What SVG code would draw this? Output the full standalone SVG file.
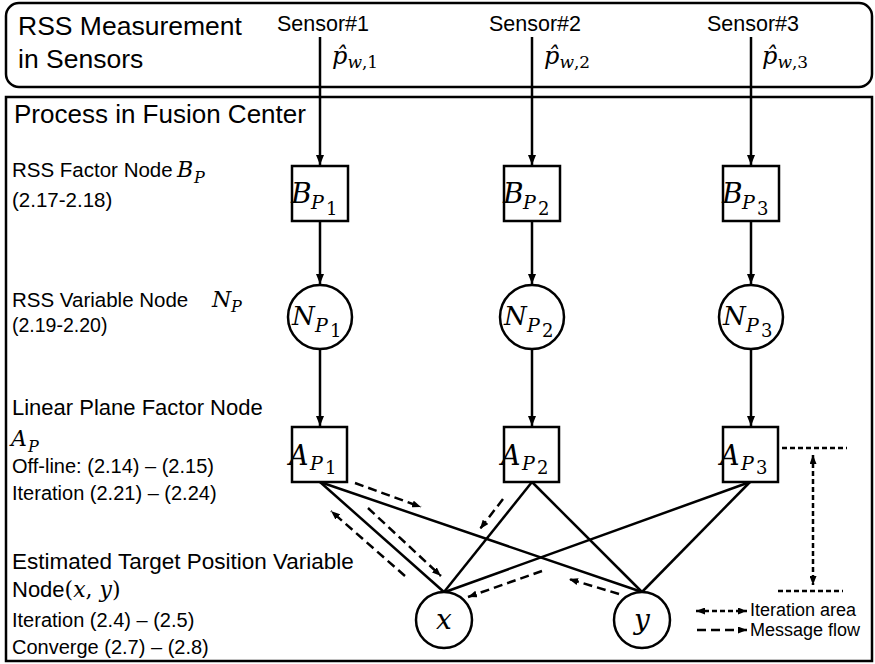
<svg xmlns="http://www.w3.org/2000/svg" width="875" height="664" viewBox="0 0 875 664">
<style>
.panel{fill:none;stroke:#000;stroke-width:2.5}
.nd{fill:#fff;stroke:#000;stroke-width:2.5}
.lbl{font-family:"Liberation Sans",Arial,sans-serif;fill:#000}
.m{font-family:"DejaVu Serif","Liberation Serif",serif;font-style:italic;fill:#000}
.u{font-family:"DejaVu Serif","Liberation Serif",serif;font-style:normal;fill:#000}
.ln{stroke:#000;stroke-width:2.5;fill:none}
.ds{stroke:#000;stroke-width:2.5;fill:none;stroke-dasharray:9 5}
.dt{stroke:#000;stroke-width:2.5;fill:none;stroke-dasharray:5 3}
</style>
<defs>
<marker id="ah" viewBox="0 0 10 8" refX="10" refY="4" markerWidth="10" markerHeight="8" markerUnits="userSpaceOnUse" orient="auto-start-reverse">
<path d="M0,0 L10,4 L0,8 z" fill="#000"/>
</marker>
<marker id="ahs" viewBox="0 0 9 7" refX="9" refY="3.5" markerWidth="9" markerHeight="7" markerUnits="userSpaceOnUse" orient="auto-start-reverse">
<path d="M0,0 L9,3.5 L0,7 z" fill="#000"/>
</marker>
</defs>

<g id="sensors-panel">
<rect class="panel" x="6" y="3" width="866" height="84" rx="13" ry="13"/>
<text class="lbl" x="18" y="35" font-size="26.5">RSS Measurement</text>
<text class="lbl" x="18" y="68" font-size="26.5">in Sensors</text>
</g>

<g id="fusion-panel">
<rect class="panel" x="6" y="97" width="866" height="564"/>
<text class="lbl" x="14" y="123" font-size="26">Process in Fusion Center</text>
<text class="lbl" x="12" y="177" font-size="20.5">RSS Factor Node <tspan class="m" x="177" font-size="22">B</tspan><tspan class="m" x="194" y="183" font-size="16">P</tspan></text>
<text class="lbl" x="12" y="207" font-size="20.5">(2.17-2.18)</text>
<text class="lbl" x="12" y="307" font-size="20.5">RSS Variable Node <tspan class="m" x="212" font-size="22">N</tspan><tspan class="m" x="231" y="312" font-size="16">P</tspan></text>
<text class="lbl" x="12" y="332" font-size="19.5">(2.19-2.20)</text>
<text class="lbl" x="12" y="415" font-size="22">Linear Plane Factor Node</text>
<text class="m" x="11" y="446" font-size="22">A</text>
<text class="m" x="28" y="452" font-size="16">P</text>
<text class="lbl" x="12" y="473" font-size="20">Off-line: (2.14) – (2.15)</text>
<text class="lbl" x="12" y="500" font-size="20">Iteration (2.21) – (2.24)</text>
<text class="lbl" x="12" y="569" font-size="22.5">Estimated Target Position Variable</text>
<text class="lbl" x="12" y="597" font-size="22">Node<tspan class="u">(</tspan><tspan class="m">x</tspan><tspan class="u">, </tspan><tspan class="m">y</tspan><tspan class="u">)</tspan></text>
<text class="lbl" x="12" y="627" font-size="20">Iteration (2.4) – (2.5)</text>
<text class="lbl" x="12" y="654" font-size="20">Converge (2.7) – (2.8)</text>
</g>

<g id="sensor1">
<text class="lbl" x="323" y="31" font-size="21.5" text-anchor="middle">Sensor#1</text>
<text class="m" x="332" y="64" font-size="24">p̂<tspan font-size="17" dy="4">w</tspan><tspan class="u" font-size="17">,1</tspan></text>
</g>
<g id="sensor2">
<text class="lbl" x="535" y="31" font-size="21.5" text-anchor="middle">Sensor#2</text>
<text class="m" x="544" y="64" font-size="24">p̂<tspan font-size="17" dy="4">w</tspan><tspan class="u" font-size="17">,2</tspan></text>
</g>
<g id="sensor3">
<text class="lbl" x="753" y="31" font-size="21.5" text-anchor="middle">Sensor#3</text>
<text class="m" x="762" y="64" font-size="24">p̂<tspan font-size="17" dy="4">w</tspan><tspan class="u" font-size="17">,3</tspan></text>
</g>

<g id="connectors">
<line class="ln" x1="320" y1="37" x2="320" y2="165" marker-end="url(#ah)"/>
<line class="ln" x1="532" y1="37" x2="532" y2="165" marker-end="url(#ah)"/>
<line class="ln" x1="751" y1="37" x2="751" y2="165" marker-end="url(#ah)"/>
<line class="ln" x1="320" y1="222" x2="320" y2="284" marker-end="url(#ah)"/>
<line class="ln" x1="532" y1="222" x2="532" y2="284" marker-end="url(#ah)"/>
<line class="ln" x1="751" y1="222" x2="751" y2="284" marker-end="url(#ah)"/>
<line class="ln" x1="320" y1="349" x2="320" y2="426" marker-end="url(#ah)"/>
<line class="ln" x1="532" y1="349" x2="532" y2="426" marker-end="url(#ah)"/>
<line class="ln" x1="751" y1="349" x2="751" y2="426" marker-end="url(#ah)"/>
<line class="ln" x1="320" y1="482" x2="444" y2="592"/>
<line class="ln" x1="320" y1="482" x2="642" y2="592"/>
<line class="ln" x1="532" y1="482" x2="444" y2="592"/>
<line class="ln" x1="532" y1="482" x2="642" y2="592"/>
<line class="ln" x1="750" y1="482" x2="445" y2="592"/>
<line class="ln" x1="750" y1="482" x2="642" y2="592"/>
<line class="ds" x1="355" y1="483" x2="421" y2="507" marker-end="url(#ahs)"/>
<line class="ds" x1="405" y1="576" x2="331" y2="511" marker-end="url(#ahs)"/>
<line class="ds" x1="368" y1="508" x2="441" y2="576" marker-end="url(#ahs)"/>
<line class="ds" x1="503" y1="499" x2="480" y2="529" marker-end="url(#ahs)"/>
<line class="ds" x1="542" y1="571" x2="468" y2="597" marker-end="url(#ahs)"/>
<line class="ds" x1="619" y1="594" x2="569" y2="579" marker-end="url(#ahs)"/>
</g>

<g id="B1"><rect class="nd" x="292" y="166" width="56" height="55"/><text class="m" x="291" y="203" font-size="28">B</text><text class="m" x="311" y="209" font-size="19">P</text><text class="u" x="326" y="215" font-size="18">1</text></g>
<g id="B2"><rect class="nd" x="504" y="166" width="56" height="55"/><text class="m" x="503" y="203" font-size="28">B</text><text class="m" x="523" y="209" font-size="19">P</text><text class="u" x="538" y="215" font-size="18">2</text></g>
<g id="B3"><rect class="nd" x="723" y="166" width="56" height="55"/><text class="m" x="722" y="203" font-size="28">B</text><text class="m" x="742" y="209" font-size="19">P</text><text class="u" x="757" y="215" font-size="18">3</text></g>

<g id="N1"><circle class="nd" cx="320" cy="317" r="32"/><text class="m" x="292" y="325" font-size="26">N</text><text class="m" x="315" y="332" font-size="19">P</text><text class="u" x="330" y="337" font-size="18">1</text></g>
<g id="N2"><circle class="nd" cx="532" cy="317" r="32"/><text class="m" x="504" y="325" font-size="26">N</text><text class="m" x="527" y="332" font-size="19">P</text><text class="u" x="542" y="337" font-size="18">2</text></g>
<g id="N3"><circle class="nd" cx="751" cy="317" r="32"/><text class="m" x="723" y="325" font-size="26">N</text><text class="m" x="746" y="332" font-size="19">P</text><text class="u" x="761" y="337" font-size="18">3</text></g>

<g id="A1"><rect class="nd" x="292" y="427" width="55" height="55"/><text class="m" x="289" y="465" font-size="27">A</text><text class="m" x="310" y="470" font-size="19">P</text><text class="u" x="325" y="474" font-size="18">1</text></g>
<g id="A2"><rect class="nd" x="504" y="427" width="55" height="55"/><text class="m" x="501" y="465" font-size="27">A</text><text class="m" x="522" y="470" font-size="19">P</text><text class="u" x="537" y="474" font-size="18">2</text></g>
<g id="A3"><rect class="nd" x="723" y="427" width="55" height="55"/><text class="m" x="720" y="465" font-size="27">A</text><text class="m" x="741" y="470" font-size="19">P</text><text class="u" x="756" y="474" font-size="18">3</text></g>

<g id="X"><circle class="nd" cx="444" cy="620" r="28"/><text class="m" x="444" y="629" font-size="28" text-anchor="middle">x</text></g>
<g id="Y"><circle class="nd" cx="642" cy="620" r="28"/><text class="m" x="642" y="629" font-size="28" text-anchor="middle">y</text></g>

<g id="iteration-area">
<line class="dt" x1="782" y1="448" x2="847" y2="448"/>
<line class="dt" x1="778" y1="591" x2="843" y2="591"/>
<line class="dt" x1="813" y1="455" x2="813" y2="585" marker-start="url(#ahs)" marker-end="url(#ahs)"/>
</g>

<g id="legend">
<line class="dt" x1="696" y1="611" x2="747" y2="611" marker-start="url(#ahs)" marker-end="url(#ahs)"/>
<text class="lbl" x="750" y="616" font-size="18">Iteration area</text>
<line class="ds" x1="697" y1="630" x2="747" y2="630" stroke-dasharray="10 6" marker-end="url(#ahs)"/>
<text class="lbl" x="750" y="636" font-size="18">Message flow</text>
</g>
</svg>
